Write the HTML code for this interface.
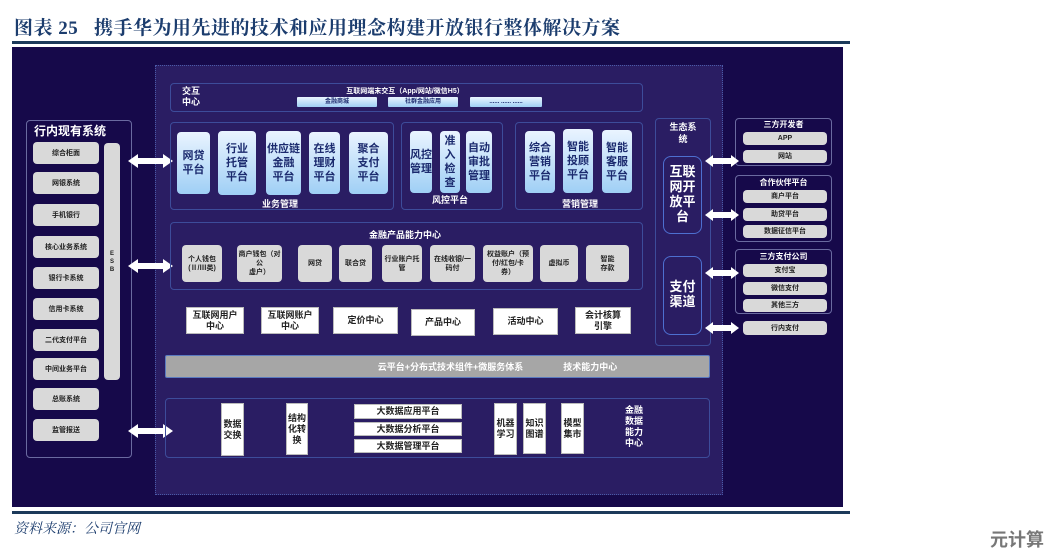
<!DOCTYPE html>
<html><head><meta charset="utf-8"><style>
*{margin:0;padding:0;box-sizing:border-box}
body{width:1063px;height:555px;background:#fff;position:relative;overflow:hidden;font-family:"Liberation Sans","Noto Sans CJK SC",sans-serif}
.a{position:absolute}
.c{display:flex;align-items:center;justify-content:center;text-align:center}
.card{position:absolute;background:linear-gradient(#eaf4ff,#9fcff5);border-radius:4px;color:#1b2a6e;font-weight:bold;font-size:11px;line-height:14px;display:flex;align-items:center;justify-content:center;text-align:center}
.gr{position:absolute;background:#d9d9d9;border-radius:4px;color:#222;font-weight:bold;font-size:7px;display:flex;align-items:center;justify-content:center;text-align:center;line-height:9px}
.wh{position:absolute;background:#fff;border:1px solid #bbb;color:#222;font-weight:bold;font-size:9px;display:flex;align-items:center;justify-content:center;text-align:center;line-height:11px}
.box{position:absolute;border:1px solid #3d4c9a;border-radius:4px}
.lbl{position:absolute;color:#fff;font-weight:bold;font-size:9px;text-align:center}
</style></head><body>
<div class="a" style="left:14px;top:13px;font-family:'Liberation Serif','Noto Serif CJK SC',serif;font-weight:bold;font-size:19px;color:#1c3d6e;letter-spacing:0.5px">图表 25&nbsp;&nbsp;&nbsp;携手华为用先进的技术和应用理念构建开放银行整体解决方案</div>
<div class="a" style="left:12px;top:41px;width:838px;height:3px;background:#1c3a5a"></div>
<div class="a" style="left:12px;top:47px;width:831px;height:460px;background:#16094a"></div>
<div class="a" style="left:155px;top:65px;width:568px;height:430px;background:#2a1d63;border:1px dotted #4a5aa8"></div>
<div class="a" style="left:12px;top:511px;width:838px;height:3px;background:#1c3a5a"></div>
<div class="a" style="left:14px;top:518px;font-family:'Liberation Serif','Noto Serif CJK SC',serif;font-style:italic;font-size:14px;color:#1c3d6e">资料来源：公司官网</div>
<div class="a" style="left:990px;top:526px;font-size:18px;font-weight:bold;color:#777">元计算</div>

<!-- left -->
<div class="box" style="left:26px;top:120px;width:106px;height:338px;border-color:#6a6aa0"></div>
<div class="lbl" style="left:28px;top:122px;width:90px;font-size:12px;text-align:left;padding-left:6px">行内现有系统</div>
<div class="gr" style="left:33px;top:142px;width:66px;height:22px">综合柜面</div>
<div class="gr" style="left:33px;top:172px;width:66px;height:22px">网银系统</div>
<div class="gr" style="left:33px;top:204px;width:66px;height:22px">手机银行</div>
<div class="gr" style="left:33px;top:236px;width:66px;height:22px">核心业务系统</div>
<div class="gr" style="left:33px;top:267px;width:66px;height:22px">银行卡系统</div>
<div class="gr" style="left:33px;top:298px;width:66px;height:22px">信用卡系统</div>
<div class="gr" style="left:33px;top:329px;width:66px;height:22px">二代支付平台</div>
<div class="gr" style="left:33px;top:358px;width:66px;height:22px">中间业务平台</div>
<div class="gr" style="left:33px;top:388px;width:66px;height:22px">总账系统</div>
<div class="gr" style="left:33px;top:419px;width:66px;height:22px">监管报送</div>
<div class="gr" style="left:104px;top:143px;width:16px;height:237px;font-size:6px;line-height:8px">E<br>S<br>B</div>

<svg class="a" style="left:0;top:0" width="1063" height="555">
<defs><g id="dA" fill="#fff"><polygon points="0,7 10,0 10,4 35,4 35,0 45,7 35,14 35,10 10,10 10,14"/></g></defs>
<use href="#dA" x="128" y="154"/><use href="#dA" x="128" y="259"/><use href="#dA" x="128" y="424"/>
</svg>

<!-- interaction center -->
<div class="box" style="left:170px;top:83px;width:473px;height:29px"></div>
<div class="lbl" style="left:182px;top:86px;font-size:9px;line-height:11px;text-align:left">交互<br>中心</div>
<div class="lbl" style="left:330px;top:86px;width:150px;font-size:7px">互联网端末交互（App/网站/微信H5）</div>
<div class="card" style="left:297px;top:97px;width:80px;height:10px;font-size:6px;border-radius:1px">金融商城</div>
<div class="card" style="left:388px;top:97px;width:70px;height:10px;font-size:6px;border-radius:1px">社群金融应用</div>
<div class="card" style="left:470px;top:97px;width:72px;height:10px;font-size:6px;border-radius:1px">...... ...... ......</div>

<div class="box" style="left:170px;top:122px;width:224px;height:88px"></div>
<div class="box" style="left:401px;top:122px;width:102px;height:88px"></div>
<div class="box" style="left:515px;top:122px;width:128px;height:88px"></div>
<div class="card" style="left:177px;top:132px;width:33px;height:62px">网贷<br>平台</div>
<div class="card" style="left:218px;top:131px;width:38px;height:64px">行业<br>托管<br>平台</div>
<div class="card" style="left:266px;top:131px;width:35px;height:64px">供应链<br>金融<br>平台</div>
<div class="card" style="left:309px;top:132px;width:31px;height:62px">在线<br>理财<br>平台</div>
<div class="card" style="left:349px;top:132px;width:39px;height:62px">聚合<br>支付<br>平台</div>
<div class="lbl" style="left:255px;top:197px;width:50px">业务管理</div>
<div class="card" style="left:410px;top:131px;width:22px;height:62px">风控<br>管理</div>
<div class="card" style="left:440px;top:131px;width:20px;height:62px">准<br>入<br>检<br>查</div>
<div class="card" style="left:466px;top:131px;width:26px;height:62px">自动<br>审批<br>管理</div>
<div class="lbl" style="left:425px;top:193px;width:50px">风控平台</div>
<div class="card" style="left:525px;top:131px;width:30px;height:62px">综合<br>营销<br>平台</div>
<div class="card" style="left:563px;top:129px;width:30px;height:64px">智能<br>投顾<br>平台</div>
<div class="card" style="left:602px;top:130px;width:30px;height:63px">智能<br>客服<br>平台</div>
<div class="lbl" style="left:550px;top:197px;width:60px">营销管理</div>

<!-- products -->
<div class="box" style="left:170px;top:222px;width:473px;height:68px"></div>
<div class="lbl" style="left:350px;top:228px;width:110px">金融产品能力中心</div>
<div class="gr" style="left:182px;top:245px;width:40px;height:37px">个人钱包<br>(Ⅱ/Ⅲ类)</div>
<div class="gr" style="left:237px;top:245px;width:45px;height:37px">商户钱包（对公<br>虚户）</div>
<div class="gr" style="left:298px;top:245px;width:34px;height:37px">网贷</div>
<div class="gr" style="left:339px;top:245px;width:33px;height:37px">联合贷</div>
<div class="gr" style="left:382px;top:245px;width:40px;height:37px">行业账户托<br>管</div>
<div class="gr" style="left:430px;top:245px;width:45px;height:37px">在线收银/一<br>码付</div>
<div class="gr" style="left:483px;top:245px;width:50px;height:37px">权益账户（预<br>付/红包/卡<br>券）</div>
<div class="gr" style="left:540px;top:245px;width:38px;height:37px">虚拟币</div>
<div class="gr" style="left:586px;top:245px;width:43px;height:37px">智能<br>存款</div>

<div class="wh" style="left:186px;top:307px;width:58px;height:27px">互联网用户<br>中心</div>
<div class="wh" style="left:261px;top:307px;width:58px;height:27px">互联网账户<br>中心</div>
<div class="wh" style="left:333px;top:307px;width:65px;height:27px">定价中心</div>
<div class="wh" style="left:411px;top:309px;width:64px;height:27px">产品中心</div>
<div class="wh" style="left:493px;top:308px;width:65px;height:27px">活动中心</div>
<div class="wh" style="left:575px;top:307px;width:56px;height:27px">会计核算<br>引擎</div>

<div class="a c" style="left:165px;top:355px;width:545px;height:23px;background:#a6a6a6;border:1px solid #5a7ac0;border-radius:2px;color:#fff;font-weight:bold;font-size:9px"><span style="margin-left:120px">云平台+分布式技术组件+微服务体系</span><span style="margin-left:40px">技术能力中心</span></div>

<div class="box" style="left:165px;top:398px;width:545px;height:60px"></div>
<div class="wh" style="left:221px;top:403px;width:23px;height:53px">数据<br>交换</div>
<div class="wh" style="left:286px;top:403px;width:22px;height:52px">结构<br>化转<br>换</div>
<div class="wh" style="left:354px;top:404px;width:108px;height:15px">大数据应用平台</div>
<div class="wh" style="left:354px;top:422px;width:108px;height:14px">大数据分析平台</div>
<div class="wh" style="left:354px;top:439px;width:108px;height:14px">大数据管理平台</div>
<div class="wh" style="left:494px;top:403px;width:23px;height:52px">机器<br>学习</div>
<div class="wh" style="left:523px;top:403px;width:23px;height:51px">知识<br>图谱</div>
<div class="wh" style="left:561px;top:403px;width:23px;height:51px">模型<br>集市</div>
<div class="lbl" style="left:614px;top:405px;width:40px;line-height:11px">金融<br>数据<br>能力<br>中心</div>

<!-- right -->
<div class="box" style="left:655px;top:118px;width:56px;height:228px"></div>
<div class="lbl" style="left:655px;top:121px;width:56px;line-height:12px">生态系<br>统</div>
<div class="box" style="left:663px;top:156px;width:39px;height:78px;border-color:#4d6fd0;border-radius:8px"></div>
<div class="lbl" style="left:663px;top:164px;width:39px;font-size:13px;line-height:15px">互联<br>网开<br>放平<br>台</div>
<div class="box" style="left:663px;top:256px;width:39px;height:79px;border-color:#4d6fd0;border-radius:8px"></div>
<div class="lbl" style="left:663px;top:279px;width:39px;font-size:13px;line-height:15px">支付<br>渠道</div>

<div class="box" style="left:735px;top:118px;width:97px;height:48px;border-color:#6a6aa0"></div>
<div class="lbl" style="left:735px;top:119px;width:97px;font-size:8px">三方开发者</div>
<div class="gr" style="left:743px;top:132px;width:84px;height:13px">APP</div>
<div class="gr" style="left:743px;top:150px;width:84px;height:13px">网站</div>
<div class="box" style="left:735px;top:175px;width:97px;height:67px;border-color:#6a6aa0"></div>
<div class="lbl" style="left:735px;top:177px;width:97px;font-size:8px">合作伙伴平台</div>
<div class="gr" style="left:743px;top:190px;width:84px;height:13px">商户平台</div>
<div class="gr" style="left:743px;top:208px;width:84px;height:13px">助贷平台</div>
<div class="gr" style="left:743px;top:225px;width:84px;height:13px">数据征信平台</div>
<div class="box" style="left:735px;top:249px;width:97px;height:65px;border-color:#6a6aa0"></div>
<div class="lbl" style="left:735px;top:251px;width:97px;font-size:8px">三方支付公司</div>
<div class="gr" style="left:743px;top:264px;width:84px;height:13px">支付宝</div>
<div class="gr" style="left:743px;top:282px;width:84px;height:13px">微信支付</div>
<div class="gr" style="left:743px;top:299px;width:84px;height:13px">其他三方</div>
<div class="gr" style="left:743px;top:321px;width:84px;height:14px">行内支付</div>

<svg class="a" style="left:0;top:0" width="1063" height="555">
<g fill="#fff">
<polygon points="705,161 713,155 713,158 731,158 731,155 739,161 731,167 731,164 713,164 713,167"/>
<polygon points="705,215 713,209 713,212 731,212 731,209 739,215 731,221 731,218 713,218 713,221"/>
<polygon points="705,273 713,267 713,270 731,270 731,267 739,273 731,279 731,276 713,276 713,279"/>
<polygon points="705,328 713,322 713,325 731,325 731,322 739,328 731,334 731,331 713,331 713,334"/>
</g></svg>
</body></html>
